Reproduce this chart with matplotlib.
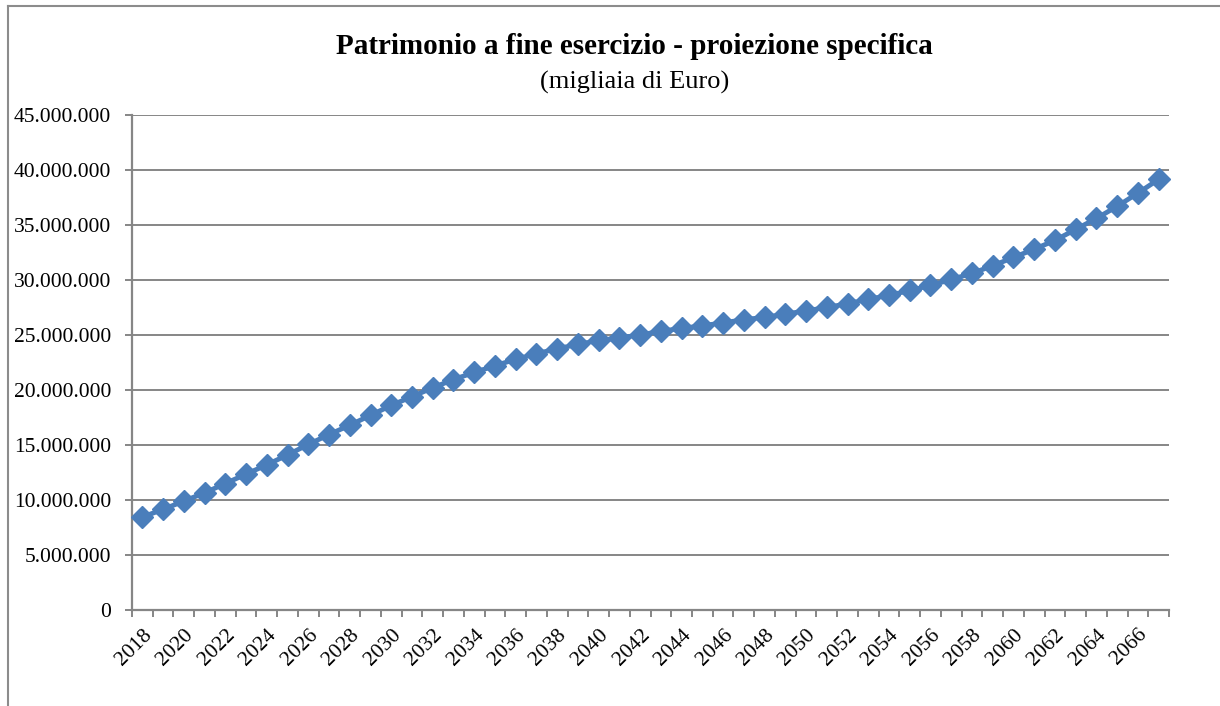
import matplotlib
matplotlib.use("Agg")
import matplotlib.pyplot as plt
from matplotlib.lines import Line2D
from matplotlib.ticker import FuncFormatter, MultipleLocator

plt.rcParams['font.family'] = ['Liberation Serif', 'DejaVu Serif']

# Anni e patrimonio (in migliaia di Euro)
years = list(range(2018, 2068))
patrimonio = [
    8.45e6, 9.15e6, 9.9e6, 10.65e6, 11.5e6, 12.35e6, 13.2e6, 14.1e6, 15.05e6, 15.95e6,
    16.8e6, 17.7e6, 18.6e6, 19.4e6, 20.2e6, 20.95e6, 21.6e6, 22.2e6, 22.8e6, 23.3e6,
    23.75e6, 24.15e6, 24.5e6, 24.75e6, 25.0e6, 25.35e6, 25.6e6, 25.85e6, 26.1e6, 26.4e6,
    26.6e6, 26.9e6, 27.2e6, 27.5e6, 27.85e6, 28.25e6, 28.6e6, 29.05e6, 29.5e6, 30.05e6,
    30.6e6, 31.3e6, 32.05e6, 32.8e6, 33.6e6, 34.6e6, 35.6e6, 36.7e6, 37.9e6, 39.15e6,
]
year_labels = [str(y) if (y - 2018) % 2 == 0 else '' for y in years]

grey = '#868686'
blue = '#4A7EBB'

fig = plt.figure(figsize=(12.2, 7.06), dpi=100)
ax = fig.add_axes([132 / 1220, 96 / 706, 1037 / 1220, 495 / 706])

x = list(range(len(years)))
ax.plot(x, patrimonio, color=blue, lw=3.5, marker='D', markersize=11,
        markerfacecolor=blue, markeredgecolor=blue, zorder=3, clip_on=False)

ax.set_xlim(-0.5, len(years) - 0.5)
ax.set_ylim(0, 45e6)
ax.yaxis.set_major_locator(MultipleLocator(5e6))
ax.yaxis.set_major_formatter(FuncFormatter(lambda v, p: f"{int(v):,}".replace(',', '.')))
ax.grid(axis='y', color=grey, lw=1.4)
ax.set_axisbelow(True)

ax.set_xticks(x)
ax.set_xticklabels(year_labels, rotation=45, ha='right', rotation_mode='anchor')
ax.set_xticks([i - 0.5 for i in range(len(years) + 1)], minor=True)
ax.tick_params(axis='x', which='major', length=0, pad=11, labelsize=15.5)
ax.tick_params(axis='x', which='minor', length=5, width=1.4, color=grey)
ax.tick_params(axis='y', length=5, width=1.4, color=grey, labelsize=15.5, pad=10)

for s in ['top', 'right']:
    ax.spines[s].set_visible(False)
for s in ['left', 'bottom']:
    ax.spines[s].set_color(grey)
    ax.spines[s].set_linewidth(1.6)

fig.text(0.52, 1 - 47 / 706, 'Patrimonio a fine esercizio - proiezione specifica',
         ha='center', va='center', fontsize=21, fontweight='bold')
fig.text(0.52, 1 - 82 / 706, '(migliaia di Euro)', ha='center', va='center', fontsize=19)

# bordo del grafico
fig.add_artist(Line2D([8 / 1220, 1], [1 - 6 / 706, 1 - 6 / 706], color='#8c8c8c', lw=1.5))
fig.add_artist(Line2D([8 / 1220, 8 / 1220], [0, 1 - 6 / 706], color='#8c8c8c', lw=1.5))

fig.savefig('out.png', dpi=100)
